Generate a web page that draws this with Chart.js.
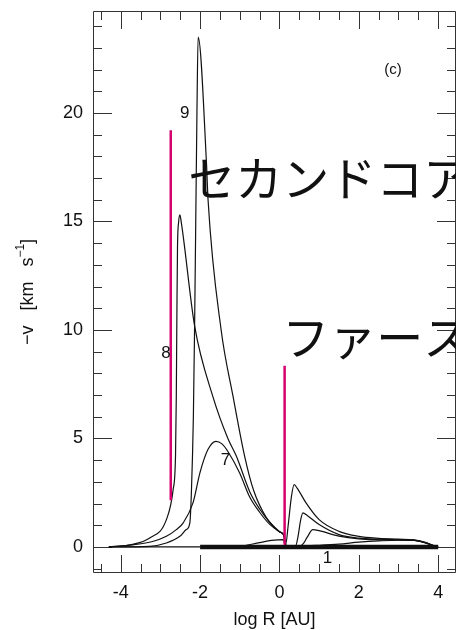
<!DOCTYPE html>
<html>
<head>
<meta charset="utf-8">
<script src="https://cdn.jsdelivr.net/npm/chart.js@4.4.1/dist/chart.umd.min.js"></script>
<style>
  html, body { margin: 0; padding: 0; background: #fff; }
  #wrap { width: 456px; height: 630px; position: relative; }
</style>
</head>
<body>
<div id="wrap"><canvas id="velocityChart"></canvas></div>
<script>
// Infall velocity profiles, [log R (AU), -v (km/s)]
const curve9 = [
    [-4.3, 0], [-3.27, 0.03], [-2.85, 0.18], [-2.51, 0.49], [-2.35, 0.8], [-2.26, 1.1],
    [-2.22, 2.5], [-2.17, 6], [-2.14, 10], [-2.11, 15], [-2.08, 20], [-2.05, 23.5],
    [-1.84, 17.7], [-1.8, 16.0], [-1.47, 10.0], [-1.17, 6.94], [-0.88, 4.2], [-0.65, 2.6],
    [-0.33, 1.35], [0.0, 0.7], [0.1, 0.57], [0.16, 0.15], [0.22, 1.0], [0.3, 2.3],
    [0.37, 2.87], [0.45, 2.7], [0.67, 2.03], [1.0, 1.26], [1.5, 0.72], [2.0, 0.49],
    [2.5, 0.4], [3.0, 0.36], [3.4, 0.33], [3.7, 0.2], [3.9, 0.05], [4.0, 0]
];
const curve8 = [
    [-4.3, 0], [-3.77, 0.1], [-3.27, 0.41], [-2.85, 1.26], [-2.68, 2.64], [-2.62, 4.2],
    [-2.6, 7], [-2.585, 10.8], [-2.57, 13.8], [-2.54, 15.0], [-2.51, 15.3], [-2.47, 14.9],
    [-2.14, 10.2], [-1.68, 6.94], [-1.3, 5.0], [-1.09, 4.2], [-0.75, 2.55], [-0.5, 1.75],
    [-0.25, 1.15], [0.0, 0.7], [0.1, 0.57], [0.18, 0.05], [0.4, 0.02], [0.47, 0.5],
    [0.53, 1.2], [0.59, 1.57], [0.7, 1.45], [1.0, 1.03], [1.5, 0.57], [2.0, 0.41],
    [2.5, 0.36], [3.0, 0.34], [3.4, 0.3], [3.7, 0.18], [3.9, 0.05], [4.0, 0]
];
const curve7 = [
    [-4.3, 0], [-3.7, 0.1], [-3.2, 0.25], [-2.85, 0.49], [-2.6, 0.8], [-2.43, 1.1],
    [-2.18, 2.03], [-2.0, 3.45], [-1.8, 4.5], [-1.6, 4.87], [-1.45, 4.75], [-1.3, 4.4],
    [-1.0, 3.4], [-0.75, 2.3], [-0.5, 1.6], [-0.25, 1.05], [0.0, 0.7], [0.1, 0.57],
    [0.18, 0.03], [0.5, 0.02], [0.6, 0.15], [0.7, 0.45], [0.84, 0.8], [1.0, 0.75],
    [1.5, 0.5], [2.0, 0.37], [2.5, 0.33], [3.0, 0.32], [3.4, 0.3], [3.7, 0.18],
    [3.9, 0.05], [4.0, 0]
];
const curveLow = [
    [-1.5, 0], [-1.0, 0.03], [-0.5, 0.2], [-0.2, 0.3], [0.1, 0.34], [0.15, 0.05],
    [0.5, 0.05], [1.0, 0.08], [1.5, 0.13], [2.0, 0.22], [2.5, 0.28], [3.0, 0.31],
    [3.3, 0.32], [3.6, 0.24], [3.85, 0.08], [4.0, 0]
];
const baseThin = [[-4.3, 0], [4.0, 0]];
const curve1 = [[-2.0, 0], [4.0, 0]];

// core radius markers
const secondCore = [[-2.74, 2.15], [-2.74, 19.2]];
const firstCore = [[0.13, 0.1], [0.13, 8.35]];

const xTickValues = [-4, -2, 0, 2, 4];
const yTickValues = [0, 5, 10, 15, 20];

const FONT = "'Liberation Sans', Arial, Helvetica, sans-serif";
const JP_FONT = "'Noto Sans CJK JP', sans-serif";
const PINK = '#d5006d';

const toPts = arr => arr.map(([x, y]) => ({ x, y }));

const lineSet = (arr, width, color, order) => ({
    data: toPts(arr),
    showLine: true,
    borderColor: color,
    borderWidth: width,
    pointRadius: 0,
    fill: false,
    cubicInterpolationMode: 'monotone',
    order
});

// text drawn on top of the plot (data coordinates)
const notes = [
    { text: '9', x: -2.39, y: 19.97, size: 17, font: FONT, align: 'center' },
    { text: '8', x: -2.86, y: 8.93, size: 17, font: FONT, align: 'center' },
    { text: '7', x: -1.36, y: 3.98, size: 17, font: FONT, align: 'center' },
    { text: '1', x: 1.21, y: -0.54, size: 17, font: FONT, align: 'center' },
    { text: '(c)', x: 2.86, y: 22.0, size: 15, font: FONT, align: 'center' },
    { text: 'セカンドコア', x: -2.3, y: 17.0, size: 47, font: JP_FONT, align: 'left' },
    { text: 'ファーストコア', x: 0.07, y: 9.65, size: 47, font: JP_FONT, align: 'left' }
];

const framePlugin = {
    id: 'frame',
    beforeDatasetsDraw(chart) {
        const { ctx, chartArea: a, scales: { x, y } } = chart;
        ctx.save();
        ctx.strokeStyle = '#333';
        ctx.lineWidth = 1;
        ctx.beginPath();
        ctx.rect(Math.round(a.left) + 0.5, Math.round(a.top) + 0.5,
            Math.round(a.right - a.left) - 1, Math.round(a.bottom - a.top) - 1);
        ctx.stroke();

        ctx.beginPath();
        // x ticks, bottom and top, pointing inward
        for (let v = -4.5; v <= 4.0001; v += 0.5) {
            const px = Math.round(x.getPixelForValue(v)) + 0.5;
            const len = xTickValues.includes(Math.round(v * 10) / 10) ? 18 : 9;
            ctx.moveTo(px, a.bottom); ctx.lineTo(px, a.bottom - len);
            ctx.moveTo(px, a.top); ctx.lineTo(px, a.top + len);
        }
        // y ticks, left and right
        for (let v = -1; v <= 24; v += 1) {
            const py = Math.round(y.getPixelForValue(v)) + 0.5;
            const len = yTickValues.includes(v) ? 19 : 9;
            ctx.moveTo(a.left, py); ctx.lineTo(a.left + len, py);
            ctx.moveTo(a.right, py); ctx.lineTo(a.right - len, py);
        }
        ctx.stroke();
        ctx.restore();
    },
    afterDraw(chart) {
        const { ctx, chartArea: a, scales: { x, y } } = chart;
        ctx.save();
        ctx.fillStyle = '#111';
        ctx.textBaseline = 'middle';
        notes.forEach(n => {
            ctx.font = `${n.size}px ${n.font}`;
            ctx.textAlign = n.align;
            ctx.fillText(n.text, x.getPixelForValue(n.x), y.getPixelForValue(n.y));
        });

        // x axis title
        ctx.font = `18px ${FONT}`;
        ctx.textAlign = 'center';
        ctx.fillText('log R [AU]', (a.left + a.right) / 2, 620);

        // y axis title with superscript, rotated
        ctx.translate(28, (a.top + a.bottom) / 2);
        ctx.rotate(-Math.PI / 2);
        const main = '\u2212v   [km   s';
        const sup = '\u22121';
        ctx.font = `18px ${FONT}`;
        const wMain = ctx.measureText(main).width;
        const wEnd = ctx.measureText(']').width;
        ctx.font = `12px ${FONT}`;
        const wSup = ctx.measureText(sup).width;
        let cx = -(wMain + wSup + wEnd) / 2;
        ctx.textAlign = 'left';
        ctx.font = `18px ${FONT}`;
        ctx.fillText(main, cx, 0);
        cx += wMain;
        ctx.font = `12px ${FONT}`;
        ctx.fillText(sup, cx, -7);
        cx += wSup;
        ctx.font = `18px ${FONT}`;
        ctx.fillText(']', cx, 0);
        ctx.restore();
    }
};

const ctx = document.getElementById('velocityChart');
new Chart(ctx, {
    type: 'scatter',
    data: {
        datasets: [
            lineSet(secondCore, 2.5, PINK, 0),
            lineSet(firstCore, 2.5, PINK, 0),
            lineSet(curve9, 1.2, '#111', 1),
            lineSet(curve8, 1.2, '#111', 1),
            lineSet(curve7, 1.2, '#111', 1),
            lineSet(curveLow, 1.2, '#111', 1),
            lineSet(baseThin, 1.2, '#111', 2),
            lineSet(curve1, 4.5, '#111', 2)
        ]
    },
    options: {
        responsive: true,
        maintainAspectRatio: false,
        animation: false,
        layout: { padding: { left: 0, right: 0, top: 11, bottom: 0 } },
        plugins: {
            legend: { display: false },
            tooltip: { enabled: false }
        },
        scales: {
            x: {
                type: 'linear',
                min: -4.7,
                max: 4.45,
                grid: { display: false, drawTicks: false },
                border: { display: false },
                afterBuildTicks: s => { s.ticks = xTickValues.map(v => ({ value: v })); },
                afterFit: s => { s.height = 57; s.paddingLeft = 0; s.paddingRight = 0; },
                ticks: {
                    padding: 9,
                    color: '#111',
                    maxRotation: 0,
                    autoSkip: false,
                    font: { family: FONT, size: 18 }
                }
            },
            y: {
                type: 'linear',
                min: -1.2,
                max: 24.7,
                grid: { display: false, drawTicks: false },
                border: { display: false },
                afterBuildTicks: s => { s.ticks = yTickValues.map(v => ({ value: v })); },
                afterFit: s => { s.width = 93; s.paddingTop = 0; s.paddingBottom = 0; },
                ticks: {
                    padding: 10,
                    color: '#111',
                    autoSkip: false,
                    font: { family: FONT, size: 18 }
                }
            }
        }
    },
    plugins: [framePlugin]
});
</script>
</body>
</html>
